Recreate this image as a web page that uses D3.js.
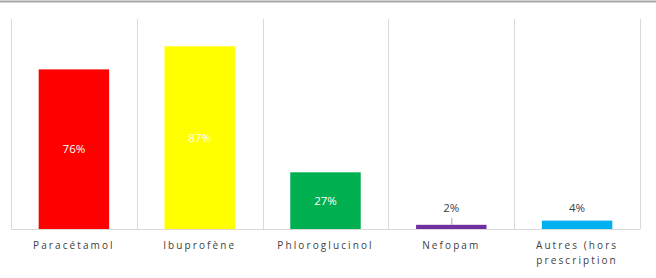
<!DOCTYPE html>
<html>
<head>
<meta charset="utf-8">
<script src="https://cdn.jsdelivr.net/npm/d3@7"></script>
<style>
  body { margin: 0; background: #fff; }
  svg { display: block; }
  text { font-family: "Open Sans", "Liberation Sans", sans-serif; }
</style>
</head>
<body>
<div id="chart"></div>
<script>
"use strict";

// chart data
const categories = ["Paracétamol", "Ibuprofène", "Phloroglucinol", "Nefopam", "Autres (hors prescription"];
const values = [0.76, 0.87, 0.27, 0.02, 0.04];
const colors = ["#ff0000", "#ffff00", "#00b050", "#7030a0", "#00b0f0"];
const valueLabels = ["76%", "87%", "27%", "2%", "4%"];

const width = 656, height = 278;
const plotLeft = 11, plotRight = 640, plotTop = 19, plotBottom = 229;

const svg = d3.select("#chart").append("svg")
    .attr("width", width)
    .attr("height", height);

// grey frame line on top
svg.append("line")
    .attr("x1", 0).attr("x2", width)
    .attr("y1", 1.5).attr("y2", 1.5)
    .attr("stroke", "#a6a6a6")
    .attr("stroke-width", 2);

const xCat = d3.scaleBand()
    .domain(categories)
    .range([plotLeft, plotRight]);

const xBar = d3.scaleBand()
    .domain(categories)
    .range([plotLeft, plotRight])
    .paddingInner(0.44)
    .paddingOuter(0.22);

const y = d3.scaleLinear()
    .domain([0, 1])
    .range([plotBottom, plotTop]);

// vertical separators between categories
const seps = categories.map(c => xCat(c)).concat([plotRight]);
svg.append("g")
    .selectAll("line")
    .data(seps)
    .enter().append("line")
    .attr("x1", d => Math.round(d) + 0.5)
    .attr("x2", d => Math.round(d) + 0.5)
    .attr("y1", y(1))
    .attr("y2", y(0))
    .attr("stroke", "#d9d9d9")
    .attr("stroke-width", 1);

// bars
svg.append("g")
    .selectAll("rect")
    .data(values)
    .enter().append("rect")
    .attr("x", (d, i) => xBar(categories[i]))
    .attr("width", xBar.bandwidth())
    .attr("y", d => y(d))
    .attr("height", d => y(0) - y(d))
    .attr("fill", (d, i) => colors[i]);

// baseline
svg.append("line")
    .attr("x1", plotLeft).attr("x2", plotRight)
    .attr("y1", y(0) + 0.5).attr("y2", y(0) + 0.5)
    .attr("stroke", "#d9d9d9")
    .attr("stroke-width", 1);

// data labels
const center = i => xCat(categories[i]) + xCat.bandwidth() / 2;
const labelY = d => d > 0.1 ? (y(d) + y(0)) / 2 : y(0.1);

svg.append("g")
    .selectAll("line")
    .data(values.map((d, i) => ({v: d, i: i})).filter(d => d.v < 0.03))
    .enter().append("line")
    .attr("x1", d => center(d.i) + 0.5)
    .attr("x2", d => center(d.i) + 0.5)
    .attr("y1", y(0.1) + 10)
    .attr("y2", d => y(d.v))
    .attr("stroke", "#a6a6a6")
    .attr("stroke-width", 1);

svg.append("g")
    .selectAll("text")
    .data(values)
    .enter().append("text")
    .attr("x", (d, i) => center(i))
    .attr("y", d => labelY(d))
    .attr("dy", "0.35em")
    .attr("text-anchor", "middle")
    .attr("font-size", 11.5)
    .attr("fill", d => d > 0.1 ? "#ffffff" : "#404040")
    .text((d, i) => valueLabels[i]);

// category labels (wrapped like the source)
const catLabels = svg.append("g")
    .selectAll("text")
    .data(categories)
    .enter().append("text")
    .attr("x", (d, i) => center(i))
    .attr("y", 249)
    .attr("text-anchor", "middle")
    .attr("font-size", 10)
    .attr("letter-spacing", 2.1)
    .attr("fill", "#404040");

catLabels.each(function (d) {
    const cut = d.indexOf(" ", 7);
    const parts = d.length > 16 ? [d.slice(0, cut), d.slice(cut + 1)] : [d];
    const x0 = d3.select(this).attr("x");
    d3.select(this).selectAll("tspan")
        .data(parts)
        .enter().append("tspan")
        .attr("x", x0)
        .attr("dy", (p, j) => j === 0 ? 0 : 15)
        .text(p => p);
});
</script>
</body>
</html>
